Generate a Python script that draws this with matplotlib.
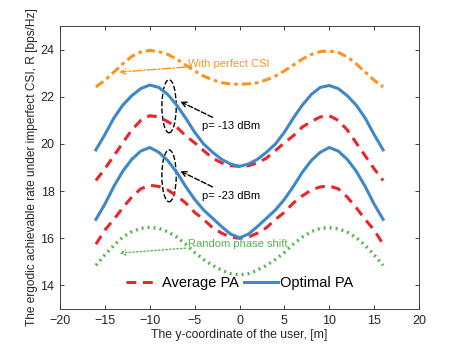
import matplotlib.pyplot as plt
from matplotlib.patches import Ellipse

plt.rcParams['font.family'] = ['Liberation Sans', 'DejaVu Sans']

# --------------------------------------
# Data
# --------------------------------------
y_coord = list(range(-16, 17))

# left half (x = -16 .. 0), right half (x = 1 .. 16)
perfect_left = [22.42, 22.70, 23.05, 23.40, 23.72, 23.90, 23.97, 23.92, 23.80,
                23.60, 23.35, 23.10, 22.88, 22.72, 22.60, 22.55, 22.53]
perfect_right = [22.55, 22.60, 22.72, 22.88, 23.10, 23.35, 23.60, 23.80, 23.92,
                 23.95, 23.88, 23.70, 23.40, 23.05, 22.70, 22.42]

opt_high_left = [19.75, 20.40, 21.10, 21.65, 22.05, 22.35, 22.50, 22.40, 22.10,
                 21.65, 21.10, 20.50, 20.00, 19.65, 19.35, 19.15, 19.05]
opt_high_right = [19.15, 19.35, 19.65, 20.00, 20.50, 21.10, 21.65, 22.10, 22.40,
                  22.48, 22.35, 22.05, 21.65, 21.10, 20.40, 19.75]

avg_high_left = [18.45, 18.95, 19.50, 20.05, 20.60, 21.00, 21.20, 21.15, 20.95,
                 20.72, 20.35, 20.05, 19.72, 19.40, 19.20, 19.08, 19.05]
avg_high_right = [19.08, 19.20, 19.40, 19.72, 20.05, 20.35, 20.72, 20.95, 21.15,
                  21.20, 21.00, 20.60, 20.05, 19.50, 18.95, 18.45]

opt_low_left = [16.80, 17.45, 18.20, 18.85, 19.35, 19.70, 19.85, 19.65, 19.30,
                18.80, 18.20, 17.65, 17.20, 16.85, 16.50, 16.18, 16.02]
opt_low_right = [16.18, 16.50, 16.85, 17.20, 17.65, 18.20, 18.80, 19.30, 19.65,
                 19.85, 19.70, 19.35, 18.85, 18.20, 17.45, 16.80]

avg_low_left = [15.75, 16.35, 16.80, 17.30, 17.75, 18.10, 18.25, 18.20, 18.05,
                17.80, 17.50, 17.10, 16.80, 16.45, 16.22, 16.05, 16.00]
avg_low_right = [16.05, 16.22, 16.45, 16.80, 17.10, 17.50, 17.80, 18.05, 18.18,
                 18.22, 18.10, 17.75, 17.30, 16.80, 16.35, 15.75]

random_left = [14.85, 15.30, 15.70, 16.05, 16.28, 16.42, 16.47, 16.42, 16.28,
               16.05, 15.75, 15.40, 15.10, 14.85, 14.65, 14.50, 14.45]
random_right = [14.50, 14.65, 14.85, 15.10, 15.40, 15.75, 16.05, 16.28, 16.42,
                16.45, 16.40, 16.26, 16.03, 15.70, 15.30, 14.85]

perfect = perfect_left + perfect_right
opt_high = opt_high_left + opt_high_right
avg_high = avg_high_left + avg_high_right
opt_low = opt_low_left + opt_low_right
avg_low = avg_low_left + avg_low_right
random_phase = random_left + random_right

x_ticks = list(range(-20, 21, 5))
y_ticks = list(range(14, 25, 2))

# colours
c_orange = '#FF931E'
c_blue = '#3F88C5'
c_red = '#E8262B'
c_green = '#55B450'
c_axis = '#262626'

# --------------------------------------
# Figure
# --------------------------------------
fig = plt.figure(figsize=(4.63, 3.48), dpi=100)
ax = fig.add_axes([0.1296, 0.112, 0.7754, 0.813])

ax.plot(y_coord, perfect, color=c_orange, linestyle=(0, (3.0, 1.3, 1.2, 1.3)), linewidth=2.2)
ax.plot(y_coord, avg_high, color=c_red, linestyle=(0, (3.2, 2.2)), linewidth=2.2, label='Average PA')
ax.plot(y_coord, opt_high, color=c_blue, linestyle='-', linewidth=2.2, label='Optimal PA')
ax.plot(y_coord, avg_low, color=c_red, linestyle=(0, (3.2, 2.2)), linewidth=2.2)
ax.plot(y_coord, opt_low, color=c_blue, linestyle='-', linewidth=2.2)
ax.plot(y_coord, random_phase, color=c_green, linestyle=(0, (0.6, 1.2)), linewidth=2.4)

# ellipses around the two power levels
ax.add_patch(Ellipse((-7.85, 21.6), 1.6, 2.25, fill=False, edgecolor='black',
                     linestyle='--', linewidth=1.0))
ax.add_patch(Ellipse((-7.85, 18.65), 1.6, 2.2, fill=False, edgecolor='black',
                     linestyle='--', linewidth=1.0))

# annotations
ax.annotate('With perfect CSI', xy=(-13.4, 23.05), xytext=(-5.7, 23.4),
            color=c_orange, fontsize=8, va='center', ha='left',
            arrowprops=dict(arrowstyle='->', color=c_orange, linestyle='-.',
                            linewidth=1.0, mutation_scale=9, shrinkA=0, shrinkB=0))
ax.annotate('p= -13 dBm', xy=(-6.6, 21.8), xytext=(-4.2, 20.75),
            color='black', fontsize=8, va='center', ha='left',
            arrowprops=dict(arrowstyle='->', color='black', linestyle='--',
                            linewidth=1.0, mutation_scale=9, shrinkA=2, shrinkB=0))
ax.annotate('p= -23 dBm', xy=(-6.6, 18.85), xytext=(-4.2, 17.8),
            color='black', fontsize=8, va='center', ha='left',
            arrowprops=dict(arrowstyle='->', color='black', linestyle='--',
                            linewidth=1.0, mutation_scale=9, shrinkA=2, shrinkB=0))
ax.annotate('Random phase shift', xy=(-13.4, 15.37), xytext=(-5.7, 15.75),
            color=c_green, fontsize=8, va='center', ha='left',
            arrowprops=dict(arrowstyle='->', color=c_green, linestyle=':',
                            linewidth=1.0, mutation_scale=9, shrinkA=0, shrinkB=0))

ax.set_xlim(-20, 20)
ax.set_ylim(13, 25)
ax.set_xticks(x_ticks)
ax.set_yticks(y_ticks)
ax.tick_params(direction='in', length=3, width=0.6, top=True, right=True,
               labelsize=9, colors=c_axis, pad=4)
for s in ax.spines.values():
    s.set_linewidth(0.6)
    s.set_color(c_axis)

ax.set_xlabel('The y-coordinate of the user, [m]', fontsize=8.8, labelpad=2, color=c_axis)
ax.set_ylabel('The ergodic achievable rate under imperfect CSI, R [bps/Hz]',
              fontsize=8.6, labelpad=2, color=c_axis)

ax.legend(loc='lower center', bbox_to_anchor=(0.5, 0.02), ncol=2, frameon=False,
          fontsize=10.5, handlelength=2.3, handletextpad=0.15, columnspacing=0.4)

plt.savefig('out.png', dpi=100)
